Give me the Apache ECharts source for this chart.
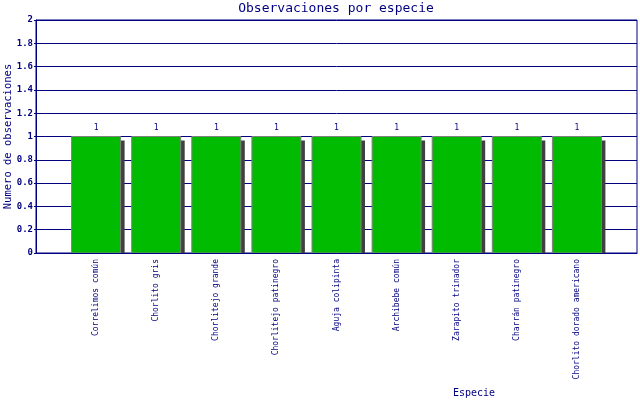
<!DOCTYPE html>
<html>
<head>
<meta charset="utf-8"/>
<title>Observaciones por especie</title>
<script src="https://cdn.jsdelivr.net/npm/echarts@6/dist/echarts.min.js"></script>
<style>
html,body{margin:0;padding:0;background:#fff;}
#chart{width:640px;height:400px;}
</style>
</head>
<body>
<div id="chart"></div>
<script type="text/javascript">
var especies = ['Correlimos común', 'Chorlito gris', 'Chorlitejo grande', 'Chorlitejo patinegro',
	'Aguja colipinta', 'Archibebe común', 'Zarapito trinador', 'Charrán patinegro', 'Chorlito dorado americano'];
var observaciones = [1, 1, 1, 1, 1, 1, 1, 1, 1];

var navy = '#000080';
var mono = 'DejaVu Sans Mono';

// empty slot at both ends so the bars sit on 1..9 of a 0..10 scale
var cats = [''].concat(especies, ['']);
var vals = [];
for (var i = 0; i < observaciones.length; i++) {
	vals.push([i + 1, observaciones[i]]);
}

// bar with a dark drop shadow, like the old pixel charts
function renderBar(params, api) {
	var top = api.coord([api.value(0), api.value(1)]);
	var base = api.coord([api.value(0), 0]);
	var w = 49;
	var x = top[0] - w / 2;
	var h = base[1] - top[1];
	return {
		type: 'group',
		children: [
			{type: 'rect', shape: {x: x + 4, y: top[1] + 4, width: w, height: h - 4},
				style: {fill: '#404040'}},
			{type: 'rect', shape: {x: x, y: top[1], width: w, height: h},
				style: {fill: '#00bb00', stroke: '#808080', lineWidth: 1}},
			{type: 'text', x: top[0], y: top[1] - 5,
				style: {text: String(api.value(1)), fill: navy, font: '8px ' + mono,
					align: 'center', verticalAlign: 'bottom'}}
		]
	};
}

var myChart = echarts.init(document.getElementById('chart'));
var option = {
	animation: false,
	title: [
		{text: 'Observaciones por especie', left: 336, top: 2, padding: 0, textAlign: 'center',
			textStyle: {color: navy, fontFamily: mono, fontSize: 13, fontWeight: 'normal'}},
		{text: 'Especie', left: 474, top: 388, padding: 0, textAlign: 'center',
			textStyle: {color: navy, fontFamily: mono, fontSize: 10, fontWeight: 'normal'}}
	],
	grid: {left: 36, right: 3, top: 20, bottom: 147, outerBoundsMode: 'none', containLabel: false,
		show: true, borderColor: navy, borderWidth: 1},
	xAxis: {
		type: 'category', data: cats, boundaryGap: false, z: 5,
		axisLine: {lineStyle: {color: navy, width: 1}},
		axisTick: {show: false},
		axisLabel: {rotate: 90, interval: 0, margin: 6, color: navy, fontFamily: mono, fontSize: 8}
	},
	yAxis: {
		type: 'value', min: 0, max: 2, interval: 0.2,
		name: 'Numero de observaciones', nameLocation: 'middle', nameGap: 22, nameMoveOverlap: false,
		nameTextStyle: {color: navy, fontFamily: mono, fontSize: 10.5},
		axisLine: {show: true, lineStyle: {color: navy, width: 1}},
		axisTick: {show: true, length: 2, lineStyle: {color: navy}},
		splitLine: {lineStyle: {color: navy, width: 1}},
		axisLabel: {margin: 3, color: navy, fontFamily: mono, fontSize: 9, fontWeight: 'bold'}
	},
	series: [{
		type: 'custom', renderItem: renderBar, data: vals,
		encode: {x: 0, y: 1}
	}]
};
myChart.setOption(option);
</script>
</body>
</html>
